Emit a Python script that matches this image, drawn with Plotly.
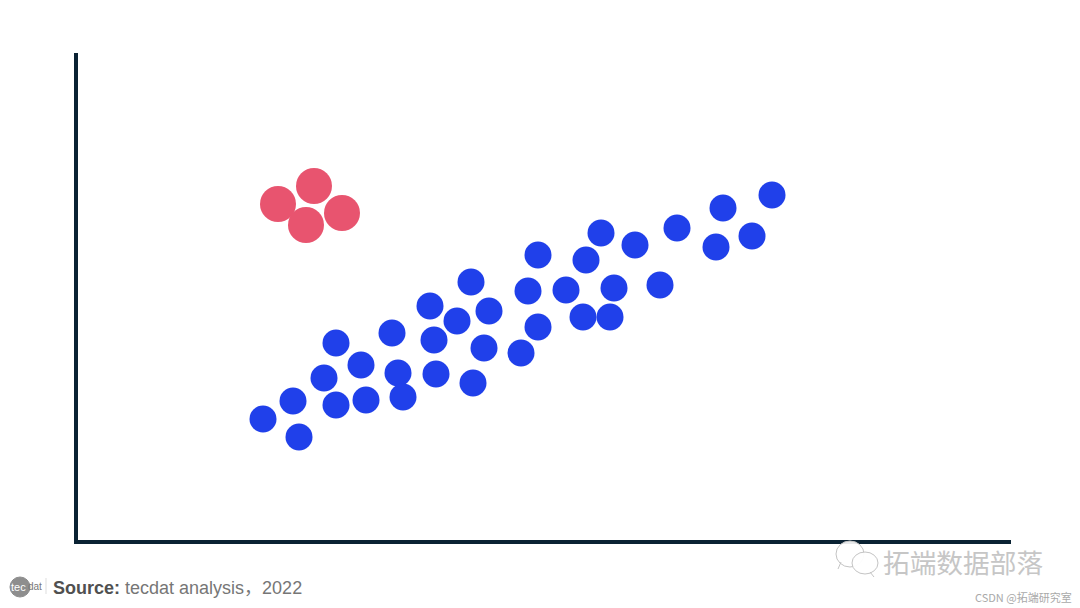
import plotly.graph_objects as go

W, H = 1080, 608
X0, X1, Y_BOTTOM, Y_TOP = 76, 1011, 542, 53
AXIS_HALF = 2

blue_x = [187, 217, 223, 248, 260, 260, 285, 290, 316, 322, 327, 354, 358, 360, 381, 395, 397, 408, 413, 445, 452, 462, 462, 490, 507, 510, 534, 538, 525, 559, 584, 601, 640, 647, 676, 696]
blue_y = [123, 141, 105, 164, 137, 199, 177, 142, 209, 169, 145, 236, 202, 168, 221, 260, 159, 194, 231, 189, 251, 215, 287, 252, 225, 282, 225, 254, 309, 297, 257, 314, 295, 334, 306, 347]
red_x = [202, 238, 230, 266]
red_y = [338, 356, 317, 329]

source_bold = "Source:"
source_text = " tecdat analysis，2022"
watermark = "拓端数据部落"
credit = "CSDN @拓端研究室"

fig = go.Figure()
fig.add_trace(go.Scatter(x=blue_x, y=blue_y, mode="markers", cliponaxis=False,
                         marker=dict(size=27, color="#2040EA", line=dict(width=0))))
fig.add_trace(go.Scatter(x=red_x, y=red_y, mode="markers", cliponaxis=False,
                         marker=dict(size=36, color="#E8546F", line=dict(width=0))))

axis_style = dict(showgrid=False, zeroline=False, showticklabels=False, ticks="",
                  showline=True, linecolor="#0A2233", linewidth=4, fixedrange=True)
fig.update_xaxes(range=[AXIS_HALF, X1 - X0], domain=[(X0 + AXIS_HALF) / W, X1 / W], **axis_style)
fig.update_yaxes(range=[AXIS_HALF, Y_BOTTOM - Y_TOP],
                 domain=[1 - (Y_BOTTOM - AXIS_HALF) / H, 1 - Y_TOP / H], **axis_style)


def px(x):
    return x / W


def py(y):
    return 1 - y / H


def note(x, y, text, size, color, family="Liberation Sans", anchor="left"):
    fig.add_annotation(xref="paper", yref="paper", x=px(x), y=py(y), text=text, showarrow=False,
                       xanchor=anchor, yanchor="middle", align="left", borderpad=0, borderwidth=0,
                       font=dict(size=size, color=color, family=family))


def oval(x0, y0, x1, y1, fill, line):
    fig.add_shape(type="circle", xref="paper", yref="paper", x0=px(x0), x1=px(x1), y0=py(y0), y1=py(y1),
                  fillcolor=fill, line=dict(color=line, width=1), layer="above")


def stroke(x0, y0, x1, y1, color, width=1):
    fig.add_shape(type="line", xref="paper", yref="paper", x0=px(x0), x1=px(x1), y0=py(y0), y1=py(y1),
                  line=dict(color=color, width=width), layer="above")


# logo
oval(10, 577, 30, 597, "#8E8E8E", "#8E8E8E")
note(28, 586.5, "dat", 10, "#777777")
note(11, 587, "tec", 11, "#FFFFFF")
stroke(46, 578, 46, 594, "#DDDDDD")
note(53, 587.5, f"<b style='color:#505050'>{source_bold}</b>{source_text}", 18, "#767676",
     "Liberation Sans, Noto Sans CJK SC")

# watermark
oval(836, 541, 864, 567, "rgba(255,255,255,0.9)", "#C4C4C4")
stroke(841, 562, 838, 569, "#C4C4C4")
oval(852, 552, 878, 574, "rgba(255,255,255,0.95)", "#C4C4C4")
stroke(870, 572, 874, 577, "#C4C4C4")
note(883, 561, watermark, 26.7, "#C6C6C6", "Noto Sans CJK SC")
note(975, 597, credit, 11, "#A9A9A9", "Noto Sans CJK SC")

fig.update_layout(width=W, height=H, margin=dict(l=0, r=0, t=0, b=0), showlegend=False,
                  paper_bgcolor="#FFFFFF", plot_bgcolor="#FFFFFF")
fig.write_html("out.html", config=dict(displayModeBar=False),
               post_script="document.body.style.margin='0';document.documentElement.style.overflow='hidden';")
